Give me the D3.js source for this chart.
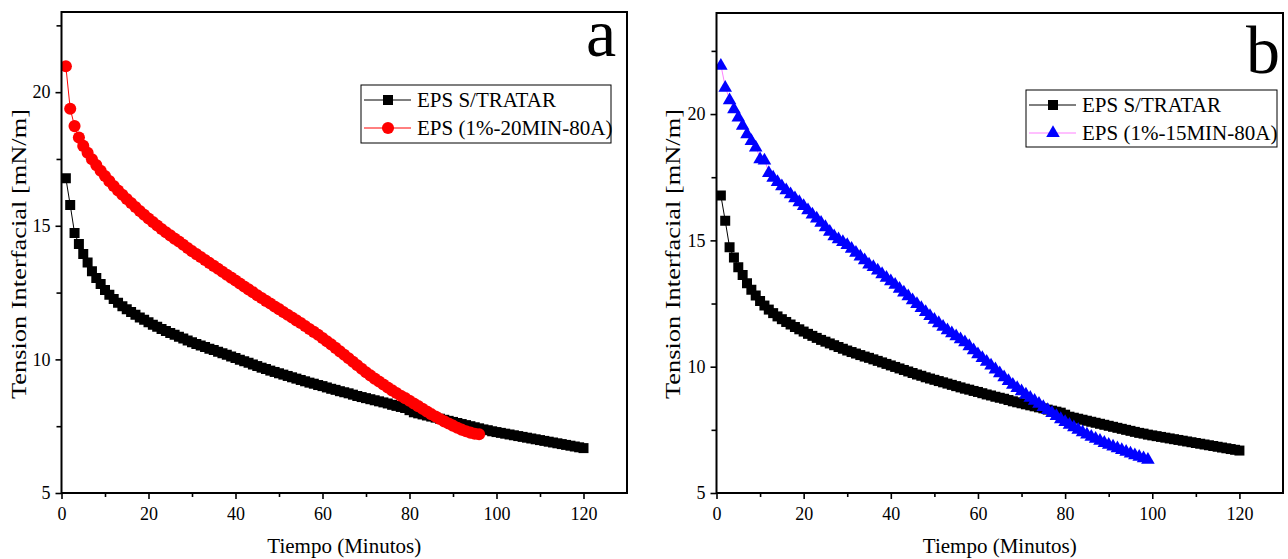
<!DOCTYPE html>
<html>
<head>
<meta charset="utf-8">
<script src="https://cdn.jsdelivr.net/npm/d3@7"></script>
<style>
  html, body { margin: 0; padding: 0; background: #fff; }
  svg { display: block; }
  text { font-family: "Liberation Serif", "Times New Roman", serif; fill: #000; }
</style>
</head>
<body>
<svg id="chart" width="1288" height="559"></svg>
<script>
// ---------- DATA ----------
const xTicks = [0, 20, 40, 60, 80, 100, 120];
const yTicksA = [5, 10, 15, 20];
const yTicksB = [5, 10, 15, 20];
const xTitle = "Tiempo (Minutos)";
const yTitle = "Tension Interfacial [mN/m]";
const seriesNames = ["EPS S/TRATAR", "EPS (1%-20MIN-80A)", "EPS (1%-15MIN-80A)"];

// EPS S/TRATAR (minute 1..120)
const untreated = [
  16.78, 15.78, 14.73, 14.32, 13.94, 13.63, 13.30, 13.05, 12.82, 12.60,
  12.42, 12.26, 12.12, 11.99, 11.88, 11.77, 11.67, 11.57, 11.48, 11.39,
  11.30, 11.22, 11.14, 11.06, 10.99, 10.92, 10.85, 10.78, 10.71, 10.64,
  10.58, 10.52, 10.46, 10.40, 10.35, 10.29, 10.23, 10.17, 10.11, 10.05,
  9.99, 9.93, 9.87, 9.81, 9.75, 9.69, 9.64, 9.58, 9.53, 9.48,
  9.43, 9.38, 9.33, 9.28, 9.23, 9.18, 9.13, 9.09, 9.04, 9.00,
  8.95, 8.90, 8.86, 8.81, 8.77, 8.73, 8.68, 8.63, 8.59, 8.55,
  8.51, 8.47, 8.43, 8.39, 8.35, 8.30, 8.26, 8.22, 8.18, 8.10,
  8.02, 7.98, 7.94, 7.90, 7.86, 7.82, 7.78, 7.74, 7.70, 7.66,
  7.62, 7.58, 7.54, 7.50, 7.46, 7.42, 7.38, 7.35, 7.31, 7.28,
  7.25, 7.22, 7.19, 7.16, 7.13, 7.10, 7.07, 7.04, 7.01, 6.98,
  6.95, 6.92, 6.89, 6.86, 6.83, 6.80, 6.77, 6.74, 6.71, 6.68
];

// EPS (1%-20MIN-80A) (minute 1..96)
const treated20 = [
  20.97, 19.38, 18.73, 18.30, 17.99, 17.73, 17.49, 17.27, 17.06, 16.86,
  16.67, 16.49, 16.32, 16.16, 16.00, 15.85, 15.70, 15.55, 15.41, 15.27,
  15.14, 15.01, 14.88, 14.76, 14.64, 14.52, 14.41, 14.29, 14.17, 14.05,
  13.94, 13.83, 13.72, 13.61, 13.50, 13.39, 13.28, 13.17, 13.06, 12.95,
  12.84, 12.73, 12.62, 12.51, 12.40, 12.30, 12.19, 12.09, 11.98, 11.88,
  11.77, 11.67, 11.57, 11.46, 11.36, 11.25, 11.14, 11.03, 10.92, 10.80,
  10.68, 10.56, 10.43, 10.30, 10.17, 10.04, 9.91, 9.78, 9.65, 9.52,
  9.40, 9.28, 9.17, 9.06, 8.95, 8.84, 8.74, 8.64, 8.55, 8.45,
  8.35, 8.25, 8.15, 8.05, 7.95, 7.86, 7.77, 7.68, 7.60, 7.52,
  7.44, 7.37, 7.31, 7.26, 7.22, 7.20
];

// EPS (1%-15MIN-80A) (minute 1..99)
const treated15 = [
  21.95, 21.08, 20.58, 20.23, 19.90, 19.57, 19.24, 18.97, 18.71, 18.25,
  18.20, 17.70, 17.52, 17.35, 17.18, 17.02, 16.86, 16.70, 16.55, 16.40,
  16.23, 16.06, 15.90, 15.73, 15.56, 15.38, 15.20, 15.08, 14.97, 14.85,
  14.70, 14.55, 14.40, 14.25, 14.08, 13.98, 13.84, 13.70, 13.56, 13.42,
  13.28, 13.12, 12.97, 12.82, 12.67, 12.52, 12.36, 12.20, 12.04, 11.89,
  11.76, 11.62, 11.48, 11.36, 11.24, 11.12, 11.00, 10.85, 10.69, 10.53,
  10.38, 10.23, 10.08, 9.93, 9.78, 9.62, 9.47, 9.32, 9.19, 9.06,
  8.93, 8.81, 8.69, 8.57, 8.44, 8.32, 8.20, 8.08, 7.96, 7.85,
  7.74, 7.64, 7.54, 7.44, 7.35, 7.26, 7.18, 7.10, 7.02, 6.95,
  6.88, 6.81, 6.74, 6.67, 6.60, 6.53, 6.47, 6.41, 6.35
];

const toPoints = vals => vals.map((v, i) => ({ t: i + 1, v }));

// ---------- DRAW ----------
const svg = d3.select("#chart");

const panels = [
  {
    letter: "a", left: 61.5, right: 627, top: 12, bottom: 493,
    yDomain: [5, 23], yTicks: yTicksA,
    letterPos: [601, 56], yTitleX: 26,
    legend: { x: 361, y: 85, w: 250, h: 58 },
    series: [
      { name: seriesNames[0], data: toPoints(untreated), color: "#000", line: "#000", shape: "square" },
      { name: seriesNames[1], data: toPoints(treated20), color: "#ff0000", line: "#ff0000", shape: "circle" }
    ]
  },
  {
    letter: "b", left: 716.5, right: 1283, top: 13, bottom: 493,
    yDomain: [5, 24], yTicks: yTicksB,
    letterPos: [1263, 73], yTitleX: 680,
    legend: { x: 1026, y: 90, w: 251, h: 57 },
    series: [
      { name: seriesNames[0], data: toPoints(untreated), color: "#000", line: "#000", shape: "square" },
      { name: seriesNames[2], data: toPoints(treated15), color: "#0000ff", line: "#ff80ff", shape: "triangle" }
    ]
  }
];

function symbolPath(shape) {
  if (shape === "square") return d3.symbol(d3.symbolSquare, 100)();
  if (shape === "circle") return d3.symbol(d3.symbolCircle, 115)();
  return d3.symbol(d3.symbolTriangle, 80)();
}

panels.forEach(p => {
  const x = d3.scaleLinear().domain([0, 130]).range([p.left, p.right]);
  const y = d3.scaleLinear().domain(p.yDomain).range([p.bottom, p.top]);
  const g = svg.append("g");

  const clipId = "clip-" + p.letter;
  svg.append("clipPath").attr("id", clipId).append("rect")
    .attr("x", p.left).attr("y", p.top)
    .attr("width", p.right - p.left).attr("height", p.bottom - p.top);

  p.series.forEach(s => {
    const sg = g.append("g").attr("clip-path", `url(#${clipId})`);
    sg.append("path")
      .datum(s.data)
      .attr("fill", "none")
      .attr("stroke", s.line)
      .attr("stroke-width", 1)
      .attr("d", d3.line().x(d => x(d.t)).y(d => y(d.v)));
    const sym = symbolPath(s.shape);
    sg.selectAll("path.m").data(s.data).enter().append("path")
      .attr("class", "m")
      .attr("d", sym)
      .attr("fill", s.color)
      .attr("transform", d => `translate(${x(d.t)},${y(d.v) + (s.shape === "triangle" ? 1 : 0)})`);
  });

  const xAxis = d3.axisBottom(x).tickValues(xTicks).tickSize(6).tickSizeOuter(0).tickPadding(8);
  const xMinor = d3.axisBottom(x).tickValues(d3.range(10, 130, 20)).tickSize(4).tickFormat("").tickSizeOuter(0);
  const yAxis = d3.axisLeft(y).tickValues(p.yTicks).tickSize(6).tickSizeOuter(0).tickPadding(5);
  const yMinorVals = d3.range(7.5, p.yDomain[1], 5);
  const yMinor = d3.axisLeft(y).tickValues(yMinorVals).tickSize(5).tickFormat("").tickSizeOuter(0);

  const gx = g.append("g").attr("transform", `translate(0,${p.bottom})`).call(xAxis);
  const gxm = g.append("g").attr("transform", `translate(0,${p.bottom})`).call(xMinor);
  const gy = g.append("g").attr("transform", `translate(${p.left},0)`).call(yAxis);
  const gym = g.append("g").attr("transform", `translate(${p.left},0)`).call(yMinor);
  [gx, gxm, gy, gym].forEach(a => {
    a.select(".domain").remove();
    a.selectAll(".tick line").attr("stroke", "#000").attr("stroke-width", 1.6);
    a.selectAll("text").style("font-family", "'Liberation Serif', serif").style("font-size", "18px").attr("fill", "#000");
  });

  g.append("rect")
    .attr("x", p.left).attr("y", p.top)
    .attr("width", p.right - p.left).attr("height", p.bottom - p.top)
    .attr("fill", "none").attr("stroke", "#000").attr("stroke-width", 2);

  g.append("text")
    .attr("x", (p.left + p.right) / 2).attr("y", 553)
    .attr("text-anchor", "middle")
    .style("font-size", "21px")
    .text(xTitle);
  g.append("text")
    .attr("transform", `translate(${p.yTitleX},254) rotate(-90)`)
    .attr("text-anchor", "middle")
    .attr("textLength", 290)
    .attr("lengthAdjust", "spacingAndGlyphs")
    .style("font-size", "21px")
    .text(yTitle);

  g.append("text")
    .attr("x", p.letterPos[0]).attr("y", p.letterPos[1])
    .attr("text-anchor", "middle")
    .style("font-size", "68px")
    .text(p.letter);

  const L = p.legend;
  const lg = g.append("g");
  lg.append("rect")
    .attr("x", L.x).attr("y", L.y).attr("width", L.w).attr("height", L.h)
    .attr("fill", "#fff").attr("stroke", "#000").attr("stroke-width", 1);
  p.series.forEach((s, i) => {
    const cy = L.y + 15 + i * 28;
    lg.append("line")
      .attr("x1", L.x + 3).attr("x2", L.x + 50)
      .attr("y1", cy).attr("y2", cy)
      .attr("stroke", s.line).attr("stroke-width", 1);
    lg.append("path")
      .attr("d", symbolPath(s.shape))
      .attr("fill", s.color)
      .attr("transform", `translate(${L.x + 27},${cy})`);
    lg.append("text")
      .attr("x", L.x + 56).attr("y", cy + 7)
      .style("font-size", "21px")
      .text(s.name);
  });
});
</script>
</body>
</html>
